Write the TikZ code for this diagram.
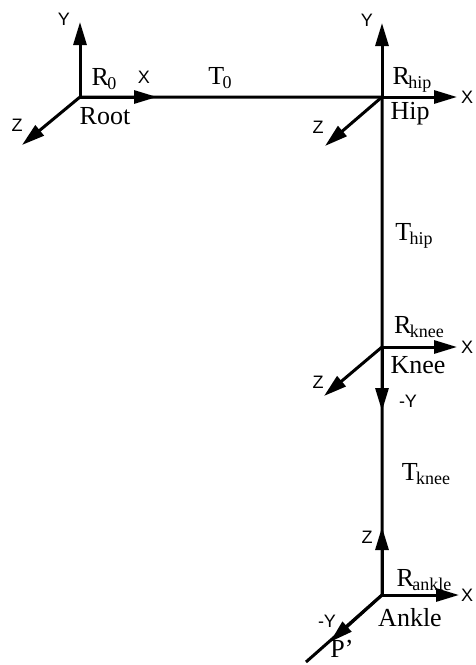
\documentclass[tikz,border=0pt]{standalone}
\usepackage{fontspec}
\setmainfont{Liberation Serif}
\newfontfamily\axisfont{Liberation Sans}
\usetikzlibrary{arrows.meta}
\newcommand{\jsub}[2]{#1\kern-1.5pt\raisebox{-4pt}{\fontsize{18}{18}\selectfont #2}}

\begin{document}
\begin{tikzpicture}[x=1pt, y=-1pt,
    bone/.style={line width=3pt},
    axis/.style={line width=3pt, -{Triangle[length=23pt, width=13pt]}},
    axlabel/.style={font=\axisfont\fontsize{18}{18}\selectfont, inner sep=0pt},
    jlabel/.style={font=\fontsize{26}{26}\selectfont, inner sep=0pt},
  ]
  \useasboundingbox (0,0) rectangle (475,665);

  % joints
  \coordinate (root) at (80,97);
  \coordinate (hip) at (382,97);
  \coordinate (knee) at (382,347);
  \coordinate (ankle) at (382,595);
  \coordinate (pend) at (306,662);

  \draw[bone] (root) -- (hip) -- (knee) -- (ankle) -- (pend);

  % root frame
  \coordinate (rootY) at (80,22);
  \coordinate (rootX) at (157,97);
  \coordinate (rootZ) at (22,145);
  \draw[axis] (root) -- (rootY);
  \draw[axis] (root) -- (rootX);
  \draw[axis] (root) -- (rootZ);
  \node[axlabel] (rootYl) at (64,19) {Y};
  \node[axlabel] (rootXl) at (144,77) {X};
  \node[axlabel] (rootZl) at (17,125) {Z};
  \node[jlabel] (rootR) at (104,79) {\jsub{R}{0}};
  \node[jlabel] (rootN) at (105,116) {Root};
  \node[jlabel] (T0) at (220,78) {\jsub{T}{0}};

  % hip frame
  \coordinate (hipY) at (382,23);
  \coordinate (hipX) at (457,97);
  \coordinate (hipZ) at (325,146);
  \draw[axis] (hip) -- (hipY);
  \draw[axis] (hip) -- (hipX);
  \draw[axis] (hip) -- (hipZ);
  \node[axlabel] (hipYl) at (367,20) {Y};
  \node[axlabel] (hipXl) at (467,97) {X};
  \node[axlabel] (hipZl) at (318,127) {Z};
  \node[jlabel] (hipR) at (412,80) {\jsub{R}{hip}};
  \node[jlabel] (hipN) at (410,114) {Hip};
  \node[jlabel] (Thip) at (414,236) {\jsub{T}{hip}};

  % knee frame
  \coordinate (kneeX) at (457,347);
  \coordinate (kneeZ) at (324,396);
  \coordinate (kneeY) at (382,411);
  \draw[axis] (knee) -- (kneeX);
  \draw[axis] (knee) -- (kneeZ);
  \draw[axis] (knee) -- (kneeY);
  \node[axlabel] (kneeXl) at (467,347) {X};
  \node[axlabel] (kneeZl) at (318,382) {Z};
  \node[axlabel] (kneeYl) at (408,401) {-Y};
  \node[jlabel] (kneeR) at (419,327) {\jsub{R}{knee}};
  \node[jlabel] (kneeN) at (418,365) {Knee};
  \node[jlabel] (Tknee) at (426,474) {\jsub{T}{knee}};

  % ankle frame
  \coordinate (ankleZ) at (382,527);
  \coordinate (ankleX) at (459,595);
  \coordinate (ankleY) at (330,642);
  \draw[axis] (ankle) -- (ankleZ);
  \draw[axis] (ankle) -- (ankleX);
  \draw[axis] (ankle) -- (ankleY);
  \node[axlabel] (ankleZl) at (367,537) {Z};
  \node[axlabel, anchor=west] (ankleXl) at (461,595) {X};
  \node[axlabel] (ankleYl) at (327,621) {-Y};
  \node[jlabel] (ankleR) at (424,580) {\jsub{R}{ankle}};
  \node[jlabel] (ankleN) at (410,618) {Ankle};
  \node[jlabel] (pendl) at (342,649) {P’};
\end{tikzpicture}
\end{document}
